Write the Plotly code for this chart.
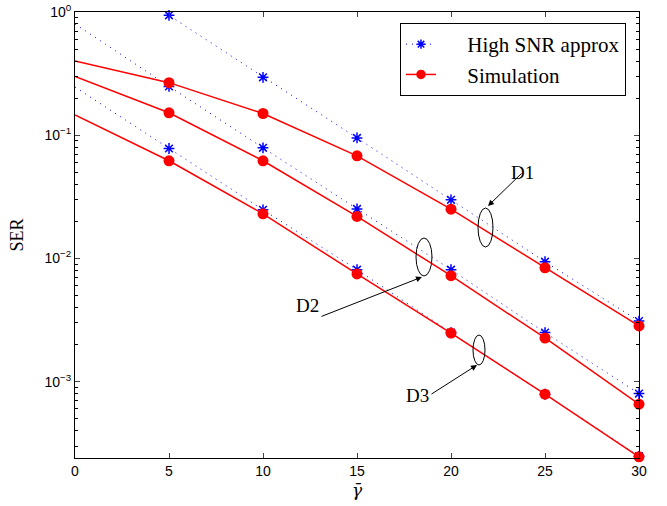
import plotly.graph_objects as go

# ---- data ----
snr = [0, 5, 10, 15, 20, 25, 30]
approx_d1 = [2.95, 0.94, 0.295, 0.095, 0.0299, 0.0094, 0.0031]
approx_d2 = [0.80, 0.249, 0.079, 0.0252, 0.0081, 0.0025, 0.00080]
approx_d3 = [0.246, 0.078, 0.0248, 0.0081, 0.0025, 0.00079, 0.000248]
sim_d1 = [0.40, 0.267, 0.150, 0.068, 0.0251, 0.0084, 0.00283]
sim_d2 = [0.30, 0.152, 0.062, 0.0219, 0.00724, 0.00226, 0.000656]
sim_d3 = [0.146, 0.062, 0.023, 0.00748, 0.00248, 0.00079, 0.000245]
x_ticks = [0, 5, 10, 15, 20, 25, 30]
y_tickvals = [1e-3, 1e-2, 1e-1, 1]
y_ticktext = ["10<sup>−3</sup>", "10<sup>−2</sup>", "10<sup>−1</sup>", "10<sup>0</sup>"]
legend_names = ["High SNR approx", "Simulation"]

W, H = 667, 506
L, R, T, B = 75, 28, 12, 48
PW, PH = W - L - R, H - T - B


def px(x):
    return (x - L) / PW


def py(y):
    return (H - B - y) / PH


fig = go.Figure()
n = len(snr)
pad = "\u00a0" * 5

for i, ys in enumerate([approx_d1, approx_d2, approx_d3]):
    fig.add_trace(go.Scatter(
        x=snr, y=ys, mode="lines+markers", name=pad + legend_names[0],
        legendgroup="a", showlegend=(i == 0),
        line=dict(color="#0000ff", width=1, dash="1px,5px"),
        marker=dict(symbol="asterisk-open", size=[0] + [9] * (n - 1), color="#0000ff",
                    opacity=1, line=dict(color="#0000ff", width=1.5)),
        cliponaxis=False,
    ))
for i, ys in enumerate([sim_d1, sim_d2, sim_d3]):
    fig.add_trace(go.Scatter(
        x=snr, y=ys, mode="lines+markers", name=pad + legend_names[1],
        legendgroup="s", showlegend=(i == 0),
        line=dict(color="#ff0000", width=1.5),
        marker=dict(symbol="circle", size=[0] + [11] * (n - 1), color="#ff0000",
                    opacity=1, line=dict(width=0)),
        cliponaxis=False,
    ))

# ellipses (annotation shapes)
ell = [(478, 208, 493, 247), (416, 238, 432, 276), (473, 335, 485, 365)]
for x0, y0, x1, y1 in ell:
    fig.add_shape(type="circle", xref="paper", yref="paper",
                  x0=px(x0), x1=px(x1), y0=py(y1), y1=py(y0),
                  line=dict(color="black", width=1))

# arrows: (tip_x, tip_y, tail_x, tail_y)
arrows = [(488, 206, 523, 172), (422, 277, 320, 317), (477, 365, 430, 395)]
for tx, ty, sx, sy in arrows:
    fig.add_annotation(xref="paper", yref="paper", x=px(tx), y=py(ty),
                       ax=sx - tx, ay=sy - ty, axref="pixel", ayref="pixel",
                       text="", showarrow=True, arrowhead=2, arrowsize=1.2,
                       arrowwidth=1, arrowcolor="black", standoff=0, startstandoff=0)

labels = [("D1", 536, 160), ("D2", 307, 318), ("D3", 417, 408)]
for t, lx, ly in labels:
    fig.add_annotation(xref="paper", yref="paper", x=px(lx), y=py(ly),
                       text=t, showarrow=False,
                       font=dict(family="Liberation Serif", size=19, color="black"))

# x-axis title placed as annotation
fig.add_annotation(xref="paper", yref="paper", x=px(357), y=py(490),
                   text="<i>γ̄</i>", showarrow=False, yanchor="middle",
                   font=dict(family="DejaVu Serif", size=17, color="black"))

fig.update_layout(
    width=W, height=H,
    margin=dict(l=L, r=R, t=T, b=B, autoexpand=False),
    paper_bgcolor="white", plot_bgcolor="white",
    showlegend=True,
    legend=dict(x=px(400), y=py(23), xanchor="left", yanchor="top",
                bordercolor="black", borderwidth=1, bgcolor="white",
                font=dict(family="Liberation Serif", size=21, color="black"),
                tracegroupgap=0),
)
fig.update_xaxes(
    range=[0, 30], tickvals=x_ticks, ticks="inside", ticklen=5,
    showline=True, linecolor="black", linewidth=1, mirror="ticks",
    showgrid=False, zeroline=False, automargin=False,
    tickfont=dict(family="Liberation Sans", size=14, color="black"),
)
fig.update_yaxes(
    type="log", range=[-3.62, 0], tickvals=y_tickvals, ticktext=y_ticktext,
    ticks="inside", ticklen=5, ticklabeloverflow="allow",
    minor=dict(ticks="inside", ticklen=3, tickcolor="black",
               tickvals=[k * 10 ** e for e in (-4, -3, -2, -1) for k in range(2, 10)]),
    showline=True, linecolor="black", linewidth=1, mirror="ticks",
    showgrid=False, zeroline=False, automargin=False,
    tickfont=dict(family="Liberation Sans", size=14, color="black"),
    title=dict(text="SER", font=dict(family="Liberation Serif", size=18, color="black"),
               standoff=16),
)

fig.write_html("out.html", config={"displayModeBar": False},
               post_script="document.body.style.margin='0';document.body.style.padding='0';")
